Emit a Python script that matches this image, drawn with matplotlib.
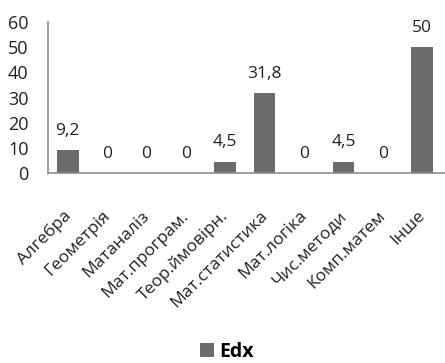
import numpy as np
import matplotlib.pyplot as plt
import matplotlib.transforms as mtransforms

plt.rcParams['font.family'] = ['Open Sans', 'DejaVu Sans']

categories = ['Алгебра', 'Геометрія', 'Матаналіз', 'Мат.програм.', 'Теор.ймовірн.',
              'Мат.статистика', 'Мат.логіка', 'Чис.методи', 'Комп.матем', 'Інше']
values = [9.2, 0, 0, 0, 4.5, 31.8, 0, 4.5, 0, 50]
labels = ['9,2', '0', '0', '0', '4,5', '31,8', '0', '4,5', '0', '50']
yticks = [0, 10, 20, 30, 40, 50, 60]

fig = plt.figure(figsize=(4.45, 3.63), dpi=100)
ax = fig.add_axes([0.108, 0.523, 0.892, 0.416])

x = np.arange(len(categories))
bars = ax.bar(x, values, width=0.55, color='#6b6b6b', label='Edx', zorder=2)
for xi, v, lab in zip(x, values, labels):
    ax.text(xi, v + 4.5, lab, ha='center', va='bottom', fontsize=12.5, color='#222222')

ax.set_xlim(-0.5, len(categories) - 0.42)
ax.set_ylim(0, 60)
ax.set_yticks(yticks)
ax.tick_params(axis='y', length=0, labelsize=13, pad=14, colors='#222222')
ax.tick_params(axis='x', length=0, pad=25)
ax.set_xticks(x)
ax.set_xticklabels(categories, rotation=45, ha='right', va='top',
                   rotation_mode='anchor', fontsize=12.5, color='#222222')
# nudge rotated labels a little to the left
shift = mtransforms.ScaledTranslation(-5/100, 0, fig.dpi_scale_trans)
for lbl in ax.get_xticklabels():
    lbl.set_transform(lbl.get_transform() + shift)

for s in ['top', 'right']:
    ax.spines[s].set_visible(False)
for s in ['left', 'bottom']:
    ax.spines[s].set_color('#8c8c8c')
    ax.spines[s].set_linewidth(1.2)

fig.legend(handles=[bars], labels=['Edx'], loc='center', bbox_to_anchor=(0.51, 0.03),
           frameon=False, handlelength=0.7, handleheight=0.7, handletextpad=0.3,
           prop={'size': 14, 'weight': 'bold'})

plt.savefig('out.png', dpi=100)
